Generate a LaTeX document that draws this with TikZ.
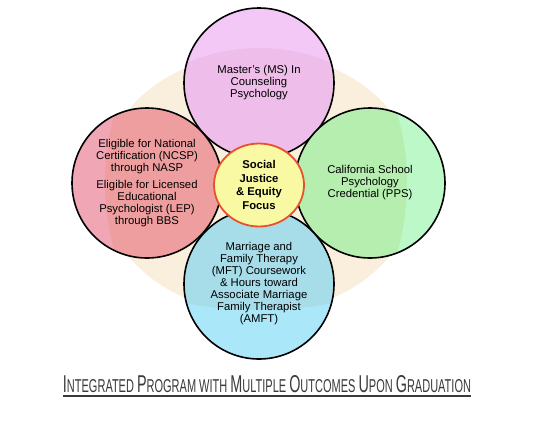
\documentclass[tikz,border=0pt]{standalone}
\usepackage{fontspec}
\setmainfont{Liberation Sans}
\usepackage{graphicx}
\usetikzlibrary{shapes.geometric}
\definecolor{beige}{HTML}{FAEEDD}
\definecolor{pinkmain}{HTML}{EEBDE9}
\definecolor{pinklight}{HTML}{F3C8F7}
\definecolor{redmain}{HTML}{EE9E9F}
\definecolor{redlight}{HTML}{F0A6B5}
\definecolor{greenmain}{HTML}{B6EEAF}
\definecolor{greenlight}{HTML}{BDF8C8}
\definecolor{bluemain}{HTML}{A7DCE9}
\definecolor{bluelight}{HTML}{AAE7F8}
\definecolor{focusyellow}{HTML}{F9F9A3}
\definecolor{focusred}{HTML}{E9502E}
\definecolor{titlegray}{HTML}{3A3A3A}
\newcommand\titlecap[1]{{\fontsize{17}{17}\selectfont #1}}
\begin{document}
\begin{tikzpicture}[x=1pt,y=-1pt,
  bubble/.style={circle, draw=black, line width=1.6pt, minimum size=150pt,
    inner sep=0pt, align=center, font=\fontsize{11.3}{12}\selectfont},
  focus/.style={ellipse, draw=focusred, line width=1.8pt, fill=focusyellow,
    minimum width=90pt, minimum height=83pt, inner sep=0pt, align=center,
    font=\bfseries\fontsize{11.3}{13.5}\selectfont},
  titletext/.style={text=titlegray, inner sep=0pt, anchor=base}
]
\useasboundingbox (0,0) rectangle (541,429);
\fill[beige] (259,183) ellipse [x radius=158, y radius=130];

\node[bubble, fill=pinklight, path picture={\fill[pinkmain] ([yshift=-147pt]path picture bounding box.center) circle[radius=182pt];}]
  (ms) at (259,83) {Master’s (MS) In\\Counseling\\Psychology};

\node[bubble, fill=redlight, path picture={\fill[redmain] ([xshift=208pt]path picture bounding box.center) circle[radius=250pt];}]
  (ncsp) at (147,183) {Eligible for National\\Certification (NCSP)\\through NASP\\[5pt]Eligible for Licensed\\Educational\\Psychologist (LEP)\\through BBS};

\node[bubble, fill=greenlight, path picture={\fill[greenmain] ([xshift=-213pt]path picture bounding box.center) circle[radius=250pt];}]
  (pps) at (370,183) {California School\\Psychology\\Credential (PPS)};

\node[bubble, fill=bluelight, path picture={\fill[bluemain] ([yshift=358pt]path picture bounding box.center) circle[radius=384pt];}]
  (mft) at (259,284) {Marriage and\\Family Therapy\\(MFT) Coursework\\\& Hours toward\\Associate Marriage\\Family Therapist\\(AMFT)};

\node[focus] (sj) at (259,185) {Social\\Justice\\\& Equity\\Focus};

\node[titletext] (title) at (267,392) {\resizebox{408pt}{17pt}{\fontsize{13}{13}\selectfont
  \titlecap{I}NTEGRATED \titlecap{P}ROGRAM WITH \titlecap{M}ULTIPLE \titlecap{O}UTCOMES \titlecap{U}PON \titlecap{G}RADUATION}};
\draw[titlegray, line width=1.4pt] ([yshift=-4pt]title.base west) -- ([yshift=-4pt]title.base east);
\end{tikzpicture}
\end{document}
